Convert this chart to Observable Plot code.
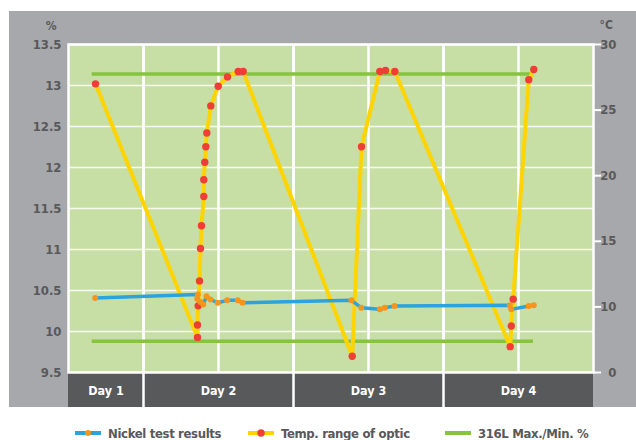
<!DOCTYPE html>
<html><head><meta charset="utf-8">
<script src="https://cdn.jsdelivr.net/npm/d3@7"></script>
<script src="https://cdn.jsdelivr.net/npm/@observablehq/plot@0.6"></script>
<style>
body{margin:0;background:#fff;width:636px;height:440px;position:relative;overflow:hidden;font-family:"Liberation Sans Narrow","Arial Narrow","DejaVu Sans Condensed",sans-serif;}
#chart{position:absolute;left:9px;top:11px;}
#legend{position:absolute;top:423px;left:0;width:636px;height:20px;font-weight:bold;font-size:13px;letter-spacing:-0.35px;color:#58595b;}
.item{position:absolute;top:0;height:20px;display:flex;align-items:center;white-space:nowrap;}
.item svg{margin-right:7px;}
</style></head><body>
<div id="chart"></div>
<div id="legend"></div>
<script>
// ---- data ----
const dayLabels = ["Day 1", "Day 2", "Day 3", "Day 4"];
const dayStart = [0, 1, 3, 5];
const dayEnd = [1, 3, 5, 7];
const gridX = [1, 2, 3, 4, 5, 6];
const pctTicks = [9.5, 10, 10.5, 11, 11.5, 12, 12.5, 13, 13.5];
const tempTicks = [0, 10, 15, 20, 25, 30];
const tempTickPct = [9.5, 10.3, 11.1, 11.9, 12.7, 13.5];

const nickelX = [0.356, 1.724, 1.716, 1.76, 1.796, 1.84, 1.893, 1.991, 2.116, 2.257, 2.32, 3.773, 3.903, 4.151, 4.217, 4.347, 5.884, 5.903, 6.137, 6.204];
const nickelPct = [10.41, 10.45, 10.40, 10.36, 10.33, 10.43, 10.39, 10.35, 10.38, 10.38, 10.35, 10.38, 10.29, 10.27, 10.29, 10.31, 10.32, 10.27, 10.31, 10.32];

const tempX = [0.36, 1.72, 1.72, 1.729, 1.747, 1.76, 1.773, 1.804, 1.804, 1.817, 1.831, 1.844, 1.897, 1.996, 2.12, 2.263, 2.329, 3.783, 3.907, 4.151, 4.227, 4.351, 5.889, 5.903, 5.929, 6.137, 6.204];
const tempC = [27.0, 5.35, 7.23, 10.08, 11.98, 14.45, 16.18, 18.42, 19.69, 21.02, 22.21, 23.26, 25.32, 26.82, 27.53, 27.94, 27.94, 2.47, 22.21, 27.94, 28.02, 27.94, 3.94, 7.08, 10.59, 27.31, 28.09];

const limitNames = ["Max", "Min"];
const limitPct = [13.14, 9.88];
const limitStart = [0.316, 0.316];
const limitEnd = [6.2, 6.2];

const legendLabels = ["Nickel test results", "Temp. range of optic", "316L Max./Min. %"];

// ---- colours ----
const GRAY = "#a7a8ab", DARK = "#58595b", PLOTBG = "#c7dfa5";
const BLUE = "#2ca3dc", ORANGE = "#f7941d", YELLOW = "#ffd400", RED = "#ee3e36", GREEN = "#86c440";
const FONT = '"Liberation Sans Narrow","Arial Narrow","DejaVu Sans Condensed",sans-serif';

// temperature axis (right) as drawn: evenly spaced labels 30,25,20,15,10,0
const tempToPct = d3.scaleLinear().domain(tempTicks).range(tempTickPct);

const nickel = nickelX.map((x, i) => ({x, y: nickelPct[i]}));
const temp = tempX.map((x, i) => ({x, y: tempToPct(tempC[i])}));
const limits = limitPct.map((p, i) => ({name: limitNames[i], x1: limitStart[i], x2: limitEnd[i], y: p}));
const days = dayLabels.map((l, i) => ({label: l, x1: dayStart[i], x2: dayEnd[i]}));

const dayBar = (index, scales, values, dim) => {
  const g = d3.create("svg:g");
  const y0 = dim.height - dim.marginBottom;
  g.selectAll("rect").data(days).join("rect")
    .attr("x", d => scales.x(d.x1))
    .attr("width", d => scales.x(d.x2) - scales.x(d.x1))
    .attr("y", y0).attr("height", dim.marginBottom)
    .attr("fill", DARK);
  return g.node();
};

const chart = Plot.plot({
  width: 627, height: 396,
  marginLeft: 59, marginRight: 43, marginTop: 33, marginBottom: 35,
  style: {background: GRAY, fontFamily: FONT, fontWeight: "bold", fontSize: "13px", overflow: "visible"},
  x: {domain: [0, 7], axis: null},
  y: {domain: [9.5, 13.5]},
  marks: [
    Plot.frame({fill: PLOTBG, stroke: null}),
    Plot.gridY(pctTicks, {stroke: "white", strokeOpacity: 0.85, strokeWidth: 1.5}),
    Plot.ruleX(gridX, {stroke: "white", strokeWidth: 2.5}),
    dayBar,
    Plot.ruleX(dayStart.slice(1), {stroke: "white", strokeWidth: 2.5, insetBottom: -35}),
    Plot.text(days, {x: d => (d.x1 + d.x2) / 2, text: "label", frameAnchor: "bottom", lineAnchor: "middle", dy: 18, fill: "white", fontSize: 12.5, letterSpacing: "-0.3px"}),
    Plot.frame({stroke: "white", strokeWidth: 2.5}),
    Plot.axisY(pctTicks, {anchor: "left", tickSize: 0, tickPadding: 7, fill: DARK, fontSize: 13, label: null, tickFormat: d => String(d)}),
    Plot.axisY(tempTickPct, {anchor: "right", tickSize: 7, tickPadding: 16, stroke: "white", strokeWidth: 2, fill: DARK, fontSize: 13, textAnchor: "end", label: null,
      tickFormat: d => String(tempTicks[tempTickPct.findIndex(p => Math.abs(p - d) < 1e-6)])}),
    Plot.text(["%"], {frameAnchor: "top-left", lineAnchor: "middle", dx: -12, dy: -18, textAnchor: "end", fill: DARK, fontSize: 12}),
    Plot.text(["°C"], {frameAnchor: "top-right", lineAnchor: "middle", dx: 6, dy: -19, textAnchor: "start", fill: DARK, fontSize: 12}),
    Plot.ruleY(limits, {x1: "x1", x2: "x2", y: "y", stroke: GREEN, strokeWidth: 3.5}),
    Plot.line(temp, {x: "x", y: "y", stroke: YELLOW, strokeWidth: 4, strokeLinejoin: "round"}),
    Plot.line(nickel, {x: "x", y: "y", stroke: BLUE, strokeWidth: 3.5, strokeLinejoin: "round"}),
    Plot.dot(temp, {x: "x", y: "y", r: 3.7, fill: RED}),
    Plot.dot(nickel, {x: "x", y: "y", r: 3, fill: ORANGE})
  ]
});
document.getElementById("chart").appendChild(chart);

// legend
const legendSw = [
  {line: BLUE, dot: ORANGE, r: 3, left: 75},
  {line: YELLOW, dot: RED, r: 3.7, left: 248},
  {line: GREEN, dot: null, r: 0, left: 445}
];
const leg = d3.select("#legend");
legendLabels.forEach((lab, i) => {
  const s = legendSw[i];
  const item = leg.append("div").attr("class", "item").style("left", s.left + "px");
  const sv = item.append("svg").attr("width", 26).attr("height", 10);
  sv.append("line").attr("x1", 0).attr("x2", 26).attr("y1", 5).attr("y2", 5)
    .attr("stroke", s.line).attr("stroke-width", 4).attr("stroke-linecap", "round");
  if (s.dot) sv.append("circle").attr("cx", 13).attr("cy", 5).attr("r", s.r).attr("fill", s.dot);
  item.append("span").text(lab);
});
</script></body></html>
